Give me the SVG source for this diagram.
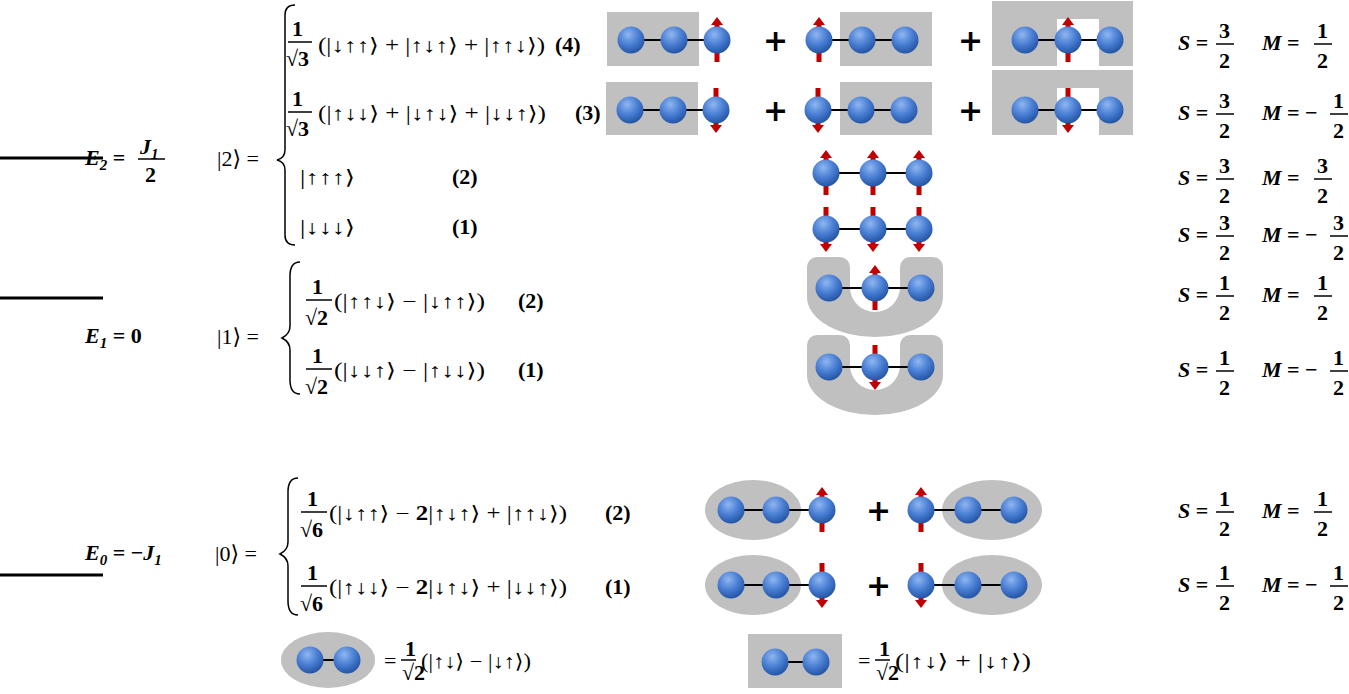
<svg xmlns="http://www.w3.org/2000/svg" xmlns:xlink="http://www.w3.org/1999/xlink" width="1349" height="694" viewBox="0 0 1349 694">
<style>
text{font-family:"Liberation Serif","DejaVu Serif",serif;font-size:22px;fill:#000}
.b{font-weight:bold}
.i{font-style:italic;font-weight:bold}
.k{font-family:"Liberation Serif","DejaVu Serif",serif;font-size:20px}
.g{fill:#c0c0c0}
.ln{stroke:#000;stroke-width:3}
.fl{stroke:#000;stroke-width:1.5}
.br{fill:none;stroke:#000;stroke-width:1.5}
.bond{stroke:#000;stroke-width:2}
.pl{font-family:"DejaVu Sans",sans-serif;font-size:30px;font-weight:bold}
</style>
<defs>
<radialGradient id="sg" cx="0.4" cy="0.3" r="0.75">
<stop offset="0" stop-color="#8fb6f0"/><stop offset="0.5" stop-color="#4a7fd4"/><stop offset="1" stop-color="#1f4f9e"/>
</radialGradient>
<circle id="s" r="13.5" fill="url(#sg)"/>
<g id="up"><rect x="-2.5" y="6" width="5" height="16" fill="#c00000"/><polygon points="-6,-15 6,-15 0,-23" fill="#c00000"/><rect x="-2.5" y="-16" width="5" height="6" fill="#c00000"/></g>
<g id="dn"><use xlink:href="#up" transform="scale(1,-1)"/></g>
</defs>

<g id="levels">
<line x1="0" y1="158" x2="103" y2="158" class="ln"/>
<line x1="0" y1="298" x2="103" y2="298" class="ln"/>
<line x1="0" y1="575" x2="103" y2="575" class="ln"/>
<text x="85" y="165" class="i">E<tspan font-size="15" dy="5">2</tspan><tspan dy="-5" font-style="normal"> = </tspan></text>
<text x="140" y="154" class="i">J<tspan font-size="15" dy="5">1</tspan></text>
<line x1="138" y1="159" x2="165" y2="159" class="fl"/>
<text x="145" y="182" class="b">2</text>
<text x="85" y="343" class="i">E<tspan font-size="15" dy="5">1</tspan><tspan dy="-5" font-style="normal"> = 0</tspan></text>
<text x="85" y="560" class="i">E<tspan font-size="15" dy="5">0</tspan><tspan dy="-5" font-style="normal"> = −</tspan>J<tspan font-size="15" dy="5">1</tspan></text>
</g>

<g id="ket2">
<text x="217" y="166">|2⟩ =</text>
<path d="M295,5 q-10,0 -10,10 v135 q0,8 -8,10 q8,2 8,10 v65 q0,10 10,10" class="br"/>
<text x="292" y="36" class="b">1</text><line x1="288" y1="42" x2="312" y2="42" class="fl"/><text x="286" y="66" class="b">√3</text>
<text x="318" y="52" class="k" textLength="227" lengthAdjust="spacingAndGlyphs">(|↓↑↑⟩ + |↑↓↑⟩ + |↑↑↓⟩)</text><text x="555" y="52" class="b">(4)</text>
<text x="292" y="106" class="b">1</text><line x1="288" y1="112" x2="312" y2="112" class="fl"/><text x="286" y="136" class="b">√3</text>
<text x="318" y="120" class="k" textLength="228" lengthAdjust="spacingAndGlyphs">(|↑↓↓⟩ + |↓↑↓⟩ + |↓↓↑⟩)</text><text x="575" y="120" class="b">(3)</text>
<text x="300" y="184" class="k" textLength="55" lengthAdjust="spacingAndGlyphs">|↑↑↑⟩</text><text x="452" y="184" class="b">(2)</text>
<text x="300" y="234" class="k" textLength="55" lengthAdjust="spacingAndGlyphs">|↓↓↓⟩</text><text x="452" y="234" class="b">(1)</text>
</g>

<g id="ket1">
<text x="217" y="344">|1⟩ =</text>
<path d="M300,262 q-10,0 -10,14 v50 q0,8 -8,12 q8,4 8,12 v30 q0,14 10,14" class="br"/>
<text x="312" y="294" class="b">1</text><line x1="306" y1="300" x2="332" y2="300" class="fl"/><text x="305" y="325" class="b">√2</text>
<text x="334" y="308" class="k" textLength="151" lengthAdjust="spacingAndGlyphs">(|↑↑↓⟩ − |↓↑↑⟩)</text><text x="518" y="308" class="b">(2)</text>
<text x="312" y="363" class="b">1</text><line x1="306" y1="369" x2="332" y2="369" class="fl"/><text x="305" y="394" class="b">√2</text>
<text x="334" y="377" class="k" textLength="151" lengthAdjust="spacingAndGlyphs">(|↓↓↑⟩ − |↑↓↓⟩)</text><text x="518" y="377" class="b">(1)</text>
</g>

<g id="ket0">
<text x="215" y="561">|0⟩ =</text>
<path d="M298,478 q-10,0 -10,14 v50 q0,8 -8,12 q8,4 8,12 v35 q0,14 10,14" class="br"/>
<text x="307" y="506" class="b">1</text><line x1="301" y1="512" x2="327" y2="512" class="fl"/><text x="300" y="537" class="b">√6</text>
<text x="329" y="520" class="k" textLength="238" lengthAdjust="spacingAndGlyphs">(|↓↑↑⟩ − <tspan font-weight="bold">2</tspan>|↑↓↑⟩ + |↑↑↓⟩)</text><text x="605" y="520" class="b">(2)</text>
<text x="307" y="580" class="b">1</text><line x1="301" y1="586" x2="327" y2="586" class="fl"/><text x="300" y="611" class="b">√6</text>
<text x="329" y="594" class="k" textLength="238" lengthAdjust="spacingAndGlyphs">(|↑↓↓⟩ − <tspan font-weight="bold">2</tspan>|↓↑↓⟩ + |↓↓↑⟩)</text><text x="605" y="594" class="b">(1)</text>
</g>

<g id="row1">
<rect x="607" y="12" width="92" height="54" class="g"/>
<rect x="840" y="12" width="92" height="54" class="g"/>
<path d="M992,1 h141 v65 h-34 v-47 h-42 v47 h-65 z" class="g"/>
<line x1="631" y1="40" x2="717" y2="40" class="bond"/><line x1="819" y1="40" x2="905" y2="40" class="bond"/><line x1="1025" y1="40" x2="1110" y2="40" class="bond"/>
<use xlink:href="#s" x="631" y="40"/><use xlink:href="#s" x="674" y="40"/><use xlink:href="#up" x="717" y="40"/><use xlink:href="#s" x="717" y="40"/>
<use xlink:href="#up" x="819" y="40"/><use xlink:href="#s" x="819" y="40"/><use xlink:href="#s" x="862" y="40"/><use xlink:href="#s" x="905" y="40"/>
<use xlink:href="#s" x="1025" y="40"/><use xlink:href="#up" x="1068" y="40"/><use xlink:href="#s" x="1068" y="40"/><use xlink:href="#s" x="1110" y="40"/>
<text x="763" y="51" class="pl">+</text><text x="958" y="51" class="pl">+</text>
</g>
<g id="row2">
<rect x="606" y="82" width="92" height="53" class="g"/>
<rect x="840" y="82" width="92" height="53" class="g"/>
<path d="M992,70 h141 v65 h-34 v-47 h-42 v47 h-65 z" class="g"/>
<line x1="630" y1="110" x2="716" y2="110" class="bond"/><line x1="818" y1="110" x2="904" y2="110" class="bond"/><line x1="1025" y1="110" x2="1110" y2="110" class="bond"/>
<use xlink:href="#s" x="630" y="110"/><use xlink:href="#s" x="673" y="110"/><use xlink:href="#dn" x="716" y="110"/><use xlink:href="#s" x="716" y="110"/>
<use xlink:href="#dn" x="818" y="110"/><use xlink:href="#s" x="818" y="110"/><use xlink:href="#s" x="861" y="110"/><use xlink:href="#s" x="904" y="110"/>
<use xlink:href="#s" x="1025" y="110"/><use xlink:href="#dn" x="1068" y="110"/><use xlink:href="#s" x="1068" y="110"/><use xlink:href="#s" x="1110" y="110"/>
<text x="763" y="121" class="pl">+</text><text x="958" y="121" class="pl">+</text>
</g>
<g id="row3">
<line x1="826" y1="173" x2="919" y2="173" class="bond"/>
<use xlink:href="#up" x="826" y="173"/><use xlink:href="#s" x="826" y="173"/><use xlink:href="#up" x="873" y="173"/><use xlink:href="#s" x="873" y="173"/><use xlink:href="#up" x="919" y="173"/><use xlink:href="#s" x="919" y="173"/>
</g>
<g id="row4">
<line x1="826" y1="229" x2="919" y2="229" class="bond"/>
<use xlink:href="#dn" x="826" y="229"/><use xlink:href="#s" x="826" y="229"/><use xlink:href="#dn" x="873" y="229"/><use xlink:href="#s" x="873" y="229"/><use xlink:href="#dn" x="919" y="229"/><use xlink:href="#s" x="919" y="229"/>
</g>
<g id="row5">
<path d="M807,267 a10,10 0 0 1 10,-10 h23 a10,10 0 0 1 10,10 v20 a25,25 0 0 0 50,0 v-20 a10,10 0 0 1 10,-10 h23 a10,10 0 0 1 10,10 v30 a68,40 0 0 1 -136,0 z" class="g"/>
<line x1="829" y1="288" x2="921" y2="288" class="bond"/>
<use xlink:href="#s" x="829" y="288"/><use xlink:href="#up" x="875" y="288"/><use xlink:href="#s" x="875" y="288"/><use xlink:href="#s" x="921" y="288"/>
</g>
<g id="row6">
<path d="M807,345 a10,10 0 0 1 10,-10 h23 a10,10 0 0 1 10,10 v20 a25,25 0 0 0 50,0 v-20 a10,10 0 0 1 10,-10 h23 a10,10 0 0 1 10,10 v30 a68,40 0 0 1 -136,0 z" class="g"/>
<line x1="829" y1="367" x2="921" y2="367" class="bond"/>
<use xlink:href="#s" x="829" y="367"/><use xlink:href="#dn" x="875" y="367"/><use xlink:href="#s" x="875" y="367"/><use xlink:href="#s" x="921" y="367"/>
</g>
<g id="row7">
<ellipse cx="753" cy="510" rx="48" ry="30" class="g"/><ellipse cx="992" cy="510" rx="50" ry="30" class="g"/>
<line x1="731" y1="510" x2="822" y2="510" class="bond"/><line x1="921" y1="510" x2="1014" y2="510" class="bond"/>
<use xlink:href="#s" x="731" y="510"/><use xlink:href="#s" x="776" y="510"/><use xlink:href="#up" x="822" y="510"/><use xlink:href="#s" x="822" y="510"/>
<use xlink:href="#up" x="921" y="510"/><use xlink:href="#s" x="921" y="510"/><use xlink:href="#s" x="968" y="510"/><use xlink:href="#s" x="1014" y="510"/>
<text x="866" y="521" class="pl">+</text>
</g>
<g id="row8">
<ellipse cx="753" cy="585" rx="48" ry="30" class="g"/><ellipse cx="992" cy="585" rx="50" ry="30" class="g"/>
<line x1="731" y1="585" x2="822" y2="585" class="bond"/><line x1="921" y1="585" x2="1014" y2="585" class="bond"/>
<use xlink:href="#s" x="731" y="585"/><use xlink:href="#s" x="776" y="585"/><use xlink:href="#dn" x="822" y="585"/><use xlink:href="#s" x="822" y="585"/>
<use xlink:href="#dn" x="921" y="585"/><use xlink:href="#s" x="921" y="585"/><use xlink:href="#s" x="968" y="585"/><use xlink:href="#s" x="1014" y="585"/>
<text x="866" y="596" class="pl">+</text>
</g>

<g id="legend">
<ellipse cx="328" cy="660" rx="47" ry="28" class="g"/>
<line x1="310" y1="660" x2="347" y2="660" class="bond"/><use xlink:href="#s" x="310" y="660"/><use xlink:href="#s" x="347" y="660"/>
<text x="384" y="668">=</text><text x="405" y="656" class="b" font-size="11">1</text><line x1="401" y1="660" x2="416" y2="660" class="fl" stroke-width="1"/><text x="402" y="680" class="b" font-size="10">√2</text>
<text x="421" y="668" class="k" textLength="110" lengthAdjust="spacingAndGlyphs">(|↑↓⟩ − |↓↑⟩)</text>
<rect x="748" y="634" width="94" height="54" class="g"/>
<line x1="775" y1="662" x2="816" y2="662" class="bond"/><use xlink:href="#s" x="775" y="662"/><use xlink:href="#s" x="816" y="662"/>
<text x="858" y="668">=</text><text x="879" y="656" class="b" font-size="11">1</text><line x1="875" y1="660" x2="890" y2="660" class="fl" stroke-width="1"/><text x="876" y="680" class="b" font-size="10">√2</text>
<text x="895" y="668" class="k" textLength="136" lengthAdjust="spacingAndGlyphs">(|↑↓⟩ + |↓↑⟩)</text>
</g>

<g id="quantum">
<g transform="translate(1178,50)"><text class="i">S<tspan font-style="normal"> =</tspan></text><text x="41" y="-12" class="b">3</text><line x1="38" y1="-6" x2="56" y2="-6" class="fl"/><text x="41" y="18" class="b">2</text><text x="84" class="i">M<tspan font-style="normal"> =</tspan></text><text x="139" y="-12" class="b">1</text><line x1="136" y1="-6" x2="154" y2="-6" class="fl"/><text x="139" y="18" class="b">2</text></g>
<g transform="translate(1178,120)"><text class="i">S<tspan font-style="normal"> =</tspan></text><text x="41" y="-12" class="b">3</text><line x1="38" y1="-6" x2="56" y2="-6" class="fl"/><text x="41" y="18" class="b">2</text><text x="84" class="i">M<tspan font-style="normal"> = −</tspan></text><text x="155" y="-12" class="b">1</text><line x1="152" y1="-6" x2="170" y2="-6" class="fl"/><text x="155" y="18" class="b">2</text></g>
<g transform="translate(1178,185)"><text class="i">S<tspan font-style="normal"> =</tspan></text><text x="41" y="-12" class="b">3</text><line x1="38" y1="-6" x2="56" y2="-6" class="fl"/><text x="41" y="18" class="b">2</text><text x="84" class="i">M<tspan font-style="normal"> =</tspan></text><text x="139" y="-12" class="b">3</text><line x1="136" y1="-6" x2="154" y2="-6" class="fl"/><text x="139" y="18" class="b">2</text></g>
<g transform="translate(1178,242)"><text class="i">S<tspan font-style="normal"> =</tspan></text><text x="41" y="-12" class="b">3</text><line x1="38" y1="-6" x2="56" y2="-6" class="fl"/><text x="41" y="18" class="b">2</text><text x="84" class="i">M<tspan font-style="normal"> = −</tspan></text><text x="155" y="-12" class="b">3</text><line x1="152" y1="-6" x2="170" y2="-6" class="fl"/><text x="155" y="18" class="b">2</text></g>
<g transform="translate(1178,302)"><text class="i">S<tspan font-style="normal"> =</tspan></text><text x="41" y="-12" class="b">1</text><line x1="38" y1="-6" x2="56" y2="-6" class="fl"/><text x="41" y="18" class="b">2</text><text x="84" class="i">M<tspan font-style="normal"> =</tspan></text><text x="139" y="-12" class="b">1</text><line x1="136" y1="-6" x2="154" y2="-6" class="fl"/><text x="139" y="18" class="b">2</text></g>
<g transform="translate(1178,377)"><text class="i">S<tspan font-style="normal"> =</tspan></text><text x="41" y="-12" class="b">1</text><line x1="38" y1="-6" x2="56" y2="-6" class="fl"/><text x="41" y="18" class="b">2</text><text x="84" class="i">M<tspan font-style="normal"> = −</tspan></text><text x="155" y="-12" class="b">1</text><line x1="152" y1="-6" x2="170" y2="-6" class="fl"/><text x="155" y="18" class="b">2</text></g>
<g transform="translate(1178,518)"><text class="i">S<tspan font-style="normal"> =</tspan></text><text x="41" y="-12" class="b">1</text><line x1="38" y1="-6" x2="56" y2="-6" class="fl"/><text x="41" y="18" class="b">2</text><text x="84" class="i">M<tspan font-style="normal"> =</tspan></text><text x="139" y="-12" class="b">1</text><line x1="136" y1="-6" x2="154" y2="-6" class="fl"/><text x="139" y="18" class="b">2</text></g>
<g transform="translate(1178,592)"><text class="i">S<tspan font-style="normal"> =</tspan></text><text x="41" y="-12" class="b">1</text><line x1="38" y1="-6" x2="56" y2="-6" class="fl"/><text x="41" y="18" class="b">2</text><text x="84" class="i">M<tspan font-style="normal"> = −</tspan></text><text x="155" y="-12" class="b">1</text><line x1="152" y1="-6" x2="170" y2="-6" class="fl"/><text x="155" y="18" class="b">2</text></g>
</g>
</svg>
